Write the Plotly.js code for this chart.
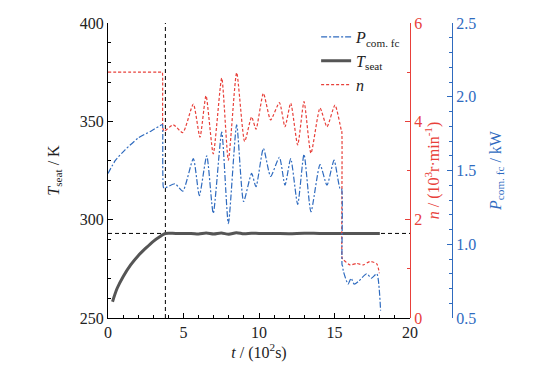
<!DOCTYPE html>
<html><head><meta charset="utf-8">
<script src="https://cdn.plot.ly/plotly-3.0.1.min.js"></script>
<style>html,body{margin:0;padding:0;background:#fff}#c{width:553px;height:371px}</style>
</head><body><div id="c"></div>
<script>
// Data
const tempTime = [0.3, 0.6, 1.0, 1.5, 2.0, 2.5, 3.0, 3.5, 3.8, 4.5, 5.5, 6.0, 6.5, 7.0, 7.5, 8.0, 8.5, 9.0, 9.5, 10, 11, 12, 13, 14, 15, 16, 17, 18];
const tempSeat = [258.3, 265, 271, 277, 281.7, 285.5, 289, 291.7, 293, 293, 293, 292.7, 293.2, 292.7, 293.2, 292.6, 293.4, 292.8, 293.1, 293, 293, 292.9, 293.1, 293, 293, 293, 293, 293];

const speedTime = [0, 1.8, 3.58, 3.6, 3.64, 3.72, 4.32, 4.95, 5.65, 6.09, 6.49, 6.97, 7.53, 7.97, 8.52, 9.05, 9.51, 9.8, 10.29, 10.77, 11.35, 11.72, 12.1, 12.56, 12.98, 13.44, 14.04, 14.5, 15.03, 15.45, 15.48, 15.5, 15.53, 15.6, 16.03, 16.47, 16.9, 17.35, 17.8, 17.97];
const speedVal  = [5.0, 5.0, 5.0, 5.0, 3.85, 3.8, 3.93, 3.77, 4.35, 3.68, 4.52, 3.34, 4.88, 3.21, 4.99, 3.59, 4.09, 3.84, 4.57, 4.03, 4.38, 3.89, 4.37, 3.52, 4.40, 3.35, 4.27, 3.89, 4.33, 3.82, 3.80, 1.22, 1.2, 1.18, 1.08, 1.11, 1.08, 1.15, 1.1, 0.91];

const powerTime = [0, 0.5, 1.13, 2.0, 2.89, 3.56, 3.6, 3.62, 3.66, 3.72, 4.44, 4.95, 5.65, 6.05, 6.54, 6.97, 7.53, 7.97, 8.52, 8.98, 9.51, 9.8, 10.29, 10.77, 11.35, 11.72, 12.1, 12.56, 12.98, 13.44, 14.04, 14.5, 14.97, 15.36, 15.46, 15.5, 15.54, 15.58, 15.9, 16.1, 16.3, 16.6, 17.13, 17.45, 17.8, 18.05];
const powerVal  = [1.48, 1.57, 1.64, 1.72, 1.77, 1.81, 1.81, 1.80, 1.39, 1.38, 1.41, 1.36, 1.58, 1.33, 1.60, 1.21, 1.76, 1.14, 1.81, 1.29, 1.48, 1.39, 1.65, 1.46, 1.59, 1.40, 1.58, 1.27, 1.61, 1.22, 1.54, 1.40, 1.57, 1.38, 1.38, 0.86, 0.85, 0.82, 0.73, 0.77, 0.73, 0.75, 0.80, 0.77, 0.80, 0.55];

const refTime = [3.8];
const refTemp = [293];
const xRange = [0, 20];
const tRange = [250, 400];

const RED = '#e8403a', BLUE = '#2f6bbf', GRAY = '#555555';
const FONT = 'Liberation Serif';
const FS = 16;

const traces = [
  {x: [refTime[0], refTime[0]], y: tRange, xaxis: 'x', yaxis: 'y', mode: 'lines', showlegend: false, hoverinfo: 'skip',
   line: {color: '#000', width: 1, dash: '4px,3px'}},
  {x: xRange, y: [refTemp[0], refTemp[0]], xaxis: 'x', yaxis: 'y', mode: 'lines', showlegend: false, hoverinfo: 'skip',
   line: {color: '#000', width: 1, dash: '4px,3px'}},
  {x: tempTime, y: tempSeat, xaxis: 'x', yaxis: 'y', mode: 'lines', name: '<i>T</i><sub>seat</sub>',
   line: {color: GRAY, width: 3, shape: 'spline', smoothing: 0.8}, legendrank: 2},
  {x: speedTime, y: speedVal, xaxis: 'x', yaxis: 'y2', mode: 'lines', name: '<i>n</i>',
   line: {color: RED, width: 1.2, dash: '3px,2px', shape: 'spline', smoothing: 0.6}, legendrank: 3},
  {x: powerTime, y: powerVal, xaxis: 'x', yaxis: 'y3', mode: 'lines', name: '<i>P</i><sub>com. fc</sub>',
   line: {color: BLUE, width: 1.2, dash: '6px,2px,2px,2px', shape: 'spline', smoothing: 0.6}, legendrank: 1}
];

const layout = {
  width: 553, height: 371,
  margin: {l: 108, r: 101, t: 23, b: 53},
  paper_bgcolor: '#fff', plot_bgcolor: '#fff',
  font: {family: FONT, size: FS, color: '#222'},
  showlegend: true,
  legend: {x: 0.605, y: 1.01, xanchor: 'left', yanchor: 'top', bgcolor: 'rgba(0,0,0,0)',
           font: {family: FONT, size: FS, color: '#222'}, tracegroupgap: 0, itemwidth: 30},
  xaxis: {domain: [0, 0.878], range: xRange, dtick: 5, ticks: 'inside', ticklen: 5, tickcolor: '#000',
          minor: {dtick: 1, ticks: 'inside', ticklen: 3, tickcolor: '#000'},
          showline: true, linecolor: '#000', linewidth: 1, showgrid: false, zeroline: false,
          tickfont: {family: FONT, size: FS, color: '#222'},
          title: {text: '<i>t</i> / (10<sup>2</sup>s)', standoff: 4, font: {family: FONT, size: FS}}},
  yaxis: {range: tRange, dtick: 50, ticks: 'inside', ticklen: 5, tickcolor: '#000',
          minor: {dtick: 10, ticks: 'inside', ticklen: 3, tickcolor: '#000'},
          showline: true, linecolor: '#000', linewidth: 1, showgrid: false, zeroline: false,
          tickfont: {family: FONT, size: FS, color: '#222'},
          title: {text: '<i>T</i><sub>seat</sub> / K', standoff: 16, font: {family: FONT, size: FS}}},
  yaxis2: {overlaying: 'y', side: 'right', anchor: 'free', position: 0.878, range: [0, 6], dtick: 2,
           ticks: 'inside', ticklen: 5, tickcolor: RED, color: RED,
           minor: {dtick: 1, ticks: 'inside', ticklen: 3, tickcolor: RED},
           showline: true, linecolor: RED, linewidth: 1, showgrid: false, zeroline: false,
           tickfont: {family: FONT, color: RED, size: FS},
           title: {text: '<i>n</i> / (10<sup>3</sup>r·min<sup>-1</sup>)', standoff: 5, font: {family: FONT, color: RED, size: FS}}},
  yaxis3: {overlaying: 'y', side: 'right', anchor: 'free', position: 1.0, range: [0.5, 2.5], dtick: 0.5,
           tickformat: '.1f', ticks: 'inside', ticklen: 5, tickcolor: BLUE, color: BLUE,
           minor: {dtick: 0.1, ticks: 'inside', ticklen: 3, tickcolor: BLUE},
           showline: true, linecolor: BLUE, linewidth: 1, showgrid: false, zeroline: false,
           tickfont: {family: FONT, color: BLUE, size: FS},
           title: {text: '<i>P</i><sub>com. fc</sub> / kW', standoff: 14, font: {family: FONT, color: BLUE, size: FS}}}
};

Plotly.newPlot('c', traces, layout, {displayModeBar: false, staticPlot: true});
</script></body></html>
